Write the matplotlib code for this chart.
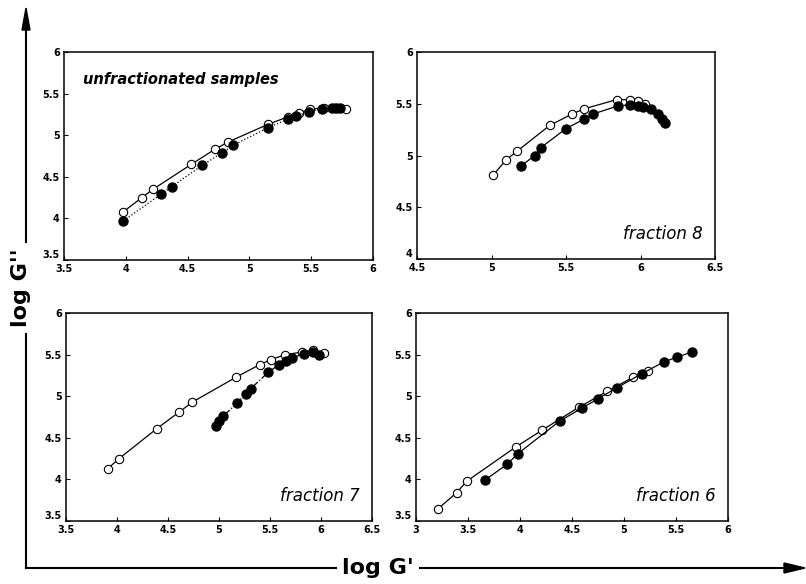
import matplotlib.pyplot as plt
import matplotlib.transforms as mtransforms

# unfractionated samples
unf_open_x = [3.98, 4.13, 4.22, 4.53, 4.72, 4.83, 5.15, 5.31, 5.40, 5.49, 5.60, 5.69, 5.78]
unf_open_y = [4.08, 4.25, 4.35, 4.65, 4.83, 4.92, 5.13, 5.22, 5.27, 5.31, 5.33, 5.33, 5.31]
unf_fill_x = [3.98, 4.285, 4.37, 4.62, 4.78, 4.87, 5.15, 5.31, 5.38, 5.48, 5.59, 5.67, 5.70, 5.73]
unf_fill_y = [3.97, 4.29, 4.38, 4.64, 4.79, 4.88, 5.09, 5.19, 5.23, 5.28, 5.32, 5.33, 5.33, 5.33]

# fraction 8
f8_open_x = [5.01, 5.10, 5.17, 5.39, 5.54, 5.62, 5.84, 5.93, 5.98, 6.03]
f8_open_y = [4.81, 4.96, 5.04, 5.29, 5.40, 5.45, 5.54, 5.54, 5.53, 5.50]
f8_fill_x = [5.20, 5.29, 5.33, 5.50, 5.62, 5.68, 5.85, 5.93, 5.98, 6.02, 6.07, 6.12, 6.145, 6.165]
f8_fill_y = [4.90, 5.00, 5.075, 5.26, 5.35, 5.40, 5.48, 5.49, 5.48, 5.47, 5.45, 5.40, 5.35, 5.31]

# fraction 7
f7_open_x = [3.91, 4.02, 4.39, 4.61, 4.74, 5.17, 5.40, 5.51, 5.65, 5.81, 5.92, 6.03]
f7_open_y = [4.13, 4.25, 4.61, 4.81, 4.93, 5.23, 5.38, 5.44, 5.50, 5.53, 5.55, 5.52]
f7_fill_x = [4.97, 5.00, 5.04, 5.18, 5.26, 5.31, 5.485, 5.59, 5.66, 5.72, 5.83, 5.92, 5.985]
f7_fill_y = [4.64, 4.70, 4.76, 4.92, 5.03, 5.09, 5.29, 5.38, 5.42, 5.46, 5.51, 5.53, 5.50]

# fraction 6
f6_open_x = [3.21, 3.39, 3.49, 3.96, 4.21, 4.57, 4.84, 5.09, 5.23]
f6_open_y = [3.645, 3.84, 3.98, 4.39, 4.59, 4.87, 5.06, 5.23, 5.30]
f6_fill_x = [3.66, 3.875, 3.98, 4.38, 4.60, 4.75, 4.93, 5.17, 5.38, 5.51, 5.65]
f6_fill_y = [3.99, 4.18, 4.31, 4.70, 4.86, 4.97, 5.10, 5.27, 5.41, 5.47, 5.53]

W, H = 806, 584
fig = plt.figure(figsize=(W / 100, H / 100), dpi=100)


def box(l, r, t, b):
    return [l / W, 1 - b / H, (r - l) / W, (b - t) / H]


panels = [
    (box(64, 373, 52, 260), (3.5, 6), (3.5, 6), [3.5, 4, 4.5, 5, 5.5, 6], [3.5, 4, 4.5, 5, 5.5, 6],
     unf_open_x, unf_open_y, unf_fill_x, unf_fill_y, ':', 'unfractionated samples', 'tl'),
    (box(417, 715, 52, 259), (4.5, 6.5), (4, 6), [4.5, 5, 5.5, 6, 6.5], [4, 4.5, 5, 5.5, 6],
     f8_open_x, f8_open_y, f8_fill_x, f8_fill_y, '-', 'fraction 8', 'br'),
    (box(66, 372, 313, 521), (3.5, 6.5), (3.5, 6), [3.5, 4, 4.5, 5, 5.5, 6, 6.5], [3.5, 4, 4.5, 5, 5.5, 6],
     f7_open_x, f7_open_y, f7_fill_x, f7_fill_y, '-.', 'fraction 7', 'br'),
    (box(416, 728, 313, 521), (3, 6), (3.5, 6), [3, 3.5, 4, 4.5, 5, 5.5, 6], [3.5, 4, 4.5, 5, 5.5, 6],
     f6_open_x, f6_open_y, f6_fill_x, f6_fill_y, '-', 'fraction 6', 'br'),
]

for rect, xl, yl, xt, yt, ox, oy, fx, fy, fls, label, pos in panels:
    ax = fig.add_axes(rect)
    ax.plot(ox, oy, '-', color='black', lw=0.9, marker='o', ms=6,
            mfc='white', mec='black', mew=0.8, zorder=2)
    ax.plot(fx, fy, fls, color='black', lw=0.9, marker='o', ms=6.5,
            mfc='black', mec='black', zorder=3)
    ax.set_xlim(xl)
    ax.set_ylim(yl)
    ax.set_xticks(xt)
    ax.set_yticks(yt)
    ax.set_xticklabels([f'{v:g}' for v in xt])
    ax.set_yticklabels([f'{v:g}' for v in yt])
    ax.tick_params(direction='in', length=3, width=0.8, labelsize=7, pad=3)
    for t in ax.get_xticklabels() + ax.get_yticklabels():
        t.set_fontweight('bold')
    # lift the lowest y label a little so it clears the first x label
    low = ax.get_yticklabels()[0]
    low.set_transform(low.get_transform() +
                      mtransforms.ScaledTranslation(0, 4 / 72, fig.dpi_scale_trans))
    for s in ax.spines.values():
        s.set_linewidth(1.1)
    if pos == 'tl':
        ax.text(0.06, 0.87, label, transform=ax.transAxes, fontsize=10.5,
                style='italic', fontweight='bold', ha='left', va='center')
    else:
        ax.text(0.96, 0.12, label, transform=ax.transAxes, fontsize=12,
                style='italic', ha='right', va='center')

# big axis arrows
fig.add_artist(plt.Line2D([26 / W, 26 / W], [1 - 568 / H, 1 - 20 / H],
                          transform=fig.transFigure, color='black', lw=1.5))
fig.add_artist(plt.Line2D([26 / W, 790 / W], [1 - 568 / H, 1 - 568 / H],
                          transform=fig.transFigure, color='black', lw=1.5))
fig.patches.append(plt.Polygon([[22 / W, 1 - 30 / H], [30 / W, 1 - 30 / H], [26 / W, 1 - 8 / H]],
                               closed=True, transform=fig.transFigure, color='black'))
fig.patches.append(plt.Polygon([[784 / W, 1 - 563 / H], [784 / W, 1 - 573 / H], [805 / W, 1 - 568 / H]],
                               closed=True, transform=fig.transFigure, color='black'))

fig.text(378 / W, 1 - 568 / H, "log G'", fontsize=16, fontweight='bold', ha='center', va='center',
         bbox=dict(facecolor='white', edgecolor='none', pad=4))
fig.text(21 / W, 1 - 288 / H, "log G''", fontsize=16, fontweight='bold', ha='center', va='center',
         rotation=90, bbox=dict(facecolor='white', edgecolor='none', pad=4))

fig.savefig('out.png', dpi=100)
